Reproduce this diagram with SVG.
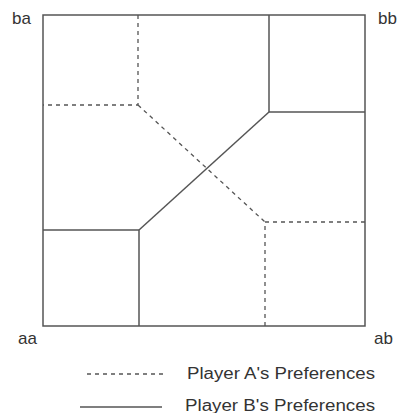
<svg xmlns="http://www.w3.org/2000/svg" width="398" height="413" viewBox="0 0 398 413">
<style>
.solid{fill:none;stroke:#555;stroke-width:1.5}
.dash{fill:none;stroke:#555;stroke-width:1.3;stroke-dasharray:4,4}
.lbl{font-family:"Liberation Sans",Arial,sans-serif;font-size:16px;fill:#333}
.cor{font-size:17px}
</style>
<rect width="398" height="413" fill="#fff"/>
<g id="frame"><rect class="solid" x="43" y="15" width="322" height="311"/></g>
<g id="connectors">
<polyline class="dash" points="138,15 138,105 43,105"/>
<polyline class="dash" points="138,105 265,222"/>
<polyline class="dash" points="365,222 265,222 265,326"/>
<polyline class="solid" points="269,15 269,112 365,112"/>
<polyline class="solid" points="43,230 139,230 139,326"/>
<line class="solid" x1="139" y1="230" x2="269" y2="112"/>
</g>
<g id="corner-ba"><text class="lbl cor" x="12" y="24">ba</text></g>
<g id="corner-bb"><text class="lbl cor" x="378" y="24">bb</text></g>
<g id="corner-aa"><text class="lbl cor" x="18" y="344">aa</text></g>
<g id="corner-ab"><text class="lbl cor" x="374" y="344">ab</text></g>
<g id="legend">
<line class="dash" x1="87" y1="374" x2="163" y2="374"/>
<text class="lbl" x="187" y="379" textLength="188" lengthAdjust="spacingAndGlyphs">Player A's Preferences</text>
<line class="solid" x1="80" y1="407" x2="162" y2="407"/>
<text class="lbl" x="185" y="411" textLength="190" lengthAdjust="spacingAndGlyphs">Player B's Preferences</text>
</g>
</svg>
